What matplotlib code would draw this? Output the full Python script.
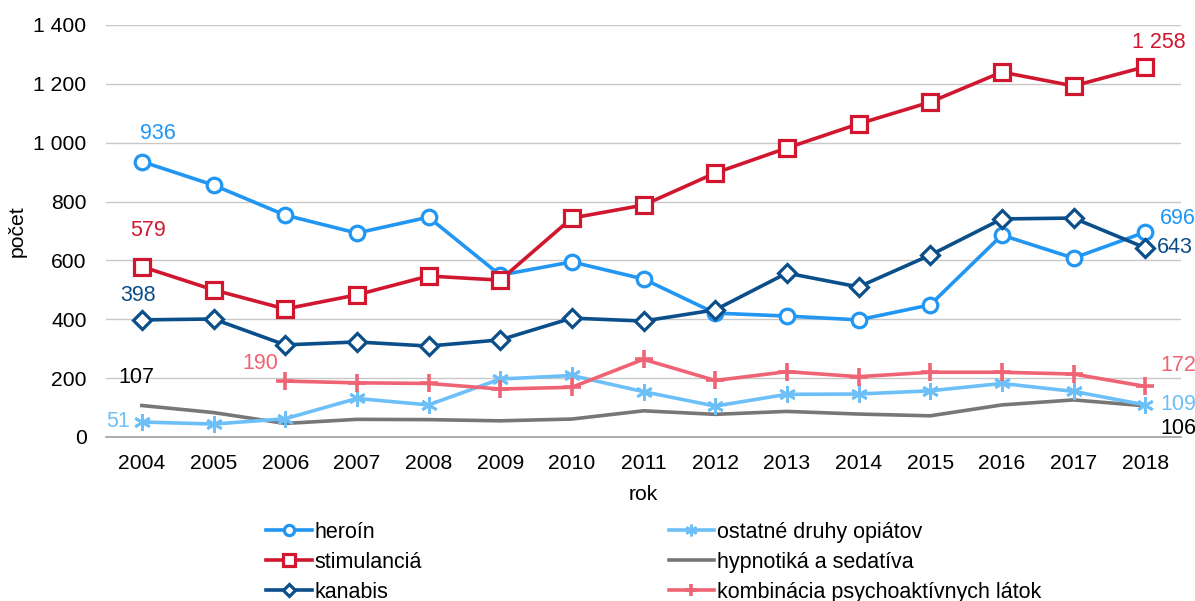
import matplotlib
matplotlib.use("Agg")
import matplotlib.pyplot as plt
from matplotlib.ticker import FuncFormatter

plt.rcParams['font.family'] = ['Liberation Sans', 'DejaVu Sans']

years = [2004, 2005, 2006, 2007, 2008, 2009, 2010, 2011, 2012, 2013, 2014, 2015, 2016, 2017, 2018]
heroin = [936, 856, 754, 693, 747, 550, 595, 537, 421, 411, 398, 449, 686, 608, 696]
stimulancia = [579, 500, 435, 483, 547, 533, 744, 788, 897, 982, 1064, 1138, 1240, 1193, 1258]
kanabis = [398, 401, 313, 323, 309, 330, 404, 394, 432, 557, 510, 618, 741, 744, 643]
ostatne = [51, 44, 62, 131, 109, 197, 209, 154, 105, 145, 146, 157, 182, 155, 109]
hypnotika = [107, 83, 46, 60, 59, 55, 61, 89, 77, 87, 78, 72, 109, 126, 106]
komb_years = [2006, 2007, 2008, 2009, 2010, 2011, 2012, 2013, 2014, 2015, 2016, 2017, 2018]
kombinacia = [190, 184, 182, 163, 169, 264, 192, 222, 205, 220, 220, 214, 172]

labels = ["heroín", "stimulanciá", "kanabis", "ostatné druhy opiátov",
          "hypnotiká a sedatíva", "kombinácia psychoaktívnych látok"]
c_her = "#2196F3"
c_sti = "#D0172F"
c_kan = "#0B4F8A"
c_ost = "#6DC0F7"
c_hyp = "#777777"
c_kom = "#EF6474"

fig = plt.figure(figsize=(11.95, 6.01), dpi=100)
ax = fig.add_axes([106/1195, (601-437)/601, (1181-106)/1195, (437-25)/601])

lw = 2.6
l1, = ax.plot(years, heroin, color=c_her, lw=lw, marker='o', ms=10.5, mfc='white', mec=c_her, mew=2.3, zorder=5)
l2, = ax.plot(years, stimulancia, color=c_sti, lw=lw, marker='s', ms=11.5, mfc='white', mec=c_sti, mew=2.3, zorder=5)
l3, = ax.plot(years, kanabis, color=c_kan, lw=lw, marker='D', ms=9, mfc='white', mec=c_kan, mew=2.3, zorder=5)
l4, = ax.plot(years, ostatne, color=c_ost, lw=lw, marker=(6, 2, 0), ms=12, mec=c_ost, mew=2, zorder=4)
l5, = ax.plot(years, hypnotika, color=c_hyp, lw=lw, zorder=3)
l6, = ax.plot(komb_years, kombinacia, color=c_kom, lw=lw, marker='+', ms=13, mec=c_kom, mew=2.6, zorder=4)

ax.set_xlim(2003.5, 2018.5)
ax.set_ylim(0, 1400)
ax.set_yticks(range(0, 1401, 200))
ax.set_xticks(years)
ax.yaxis.set_major_formatter(FuncFormatter(lambda v, p: f"{int(v):,}".replace(",", " ")))
ax.grid(axis='y', color='#C8C8C8', lw=1)
ax.set_axisbelow(True)
for s in ['top', 'right', 'left']:
    ax.spines[s].set_visible(False)
ax.spines['bottom'].set_color('#A0A0A0')
ax.spines['bottom'].set_linewidth(1.2)
ax.tick_params(axis='both', length=0, labelsize=15.2)
ax.tick_params(axis='x', pad=12)
ax.tick_params(axis='y', pad=14)
ax.set_xlabel("rok", fontsize=15.2, labelpad=9)
ax.set_ylabel("počet", fontsize=15.2, labelpad=5)

fs = 15.5
def lab(x, y, txt, color, dx, dy, ha='center'):
    ax.annotate(txt, (x, y), xytext=(dx, dy), textcoords='offset pixels', ha=ha, va='center',
                color=color, fontsize=fs, annotation_clip=False)

lab(years[0], heroin[0], "936", c_her, 16, 28)
lab(years[0], stimulancia[0], "579", c_sti, 6, 36)
lab(years[0], kanabis[0], "398", c_kan, -4, 24)
lab(years[0], hypnotika[0], "107", "#000000", -5, 28)
lab(years[0], ostatne[0], "51", c_ost, -24, 0)
lab(komb_years[0], kombinacia[0], "190", c_kom, -25, 18)
lab(years[-1], stimulancia[-1], "1 258", c_sti, 14, 24)
lab(years[-1], heroin[-1], "696", c_her, 15, 14, ha='left')
lab(years[-1], kanabis[-1], "643", c_kan, 12, 0, ha='left')
lab(years[-1], kombinacia[-1], "172", c_kom, 15, 21, ha='left')
lab(years[-1], ostatne[-1], "109", c_ost, 15, 0, ha='left')
lab(years[-1], hypnotika[-1], "106", "#000000", 15, -23, ha='left')

handles = [l1, l2, l3, l4, l5, l6]
fig.legend(handles, labels, ncol=2, loc='lower left', bbox_to_anchor=(247/1195, -0.035),
           frameon=False, fontsize=15.5, handlelength=2.1, handletextpad=0.15,
           columnspacing=11.45, labelspacing=0.42, markerscale=0.7)

fig.savefig("out.png", dpi=100)
